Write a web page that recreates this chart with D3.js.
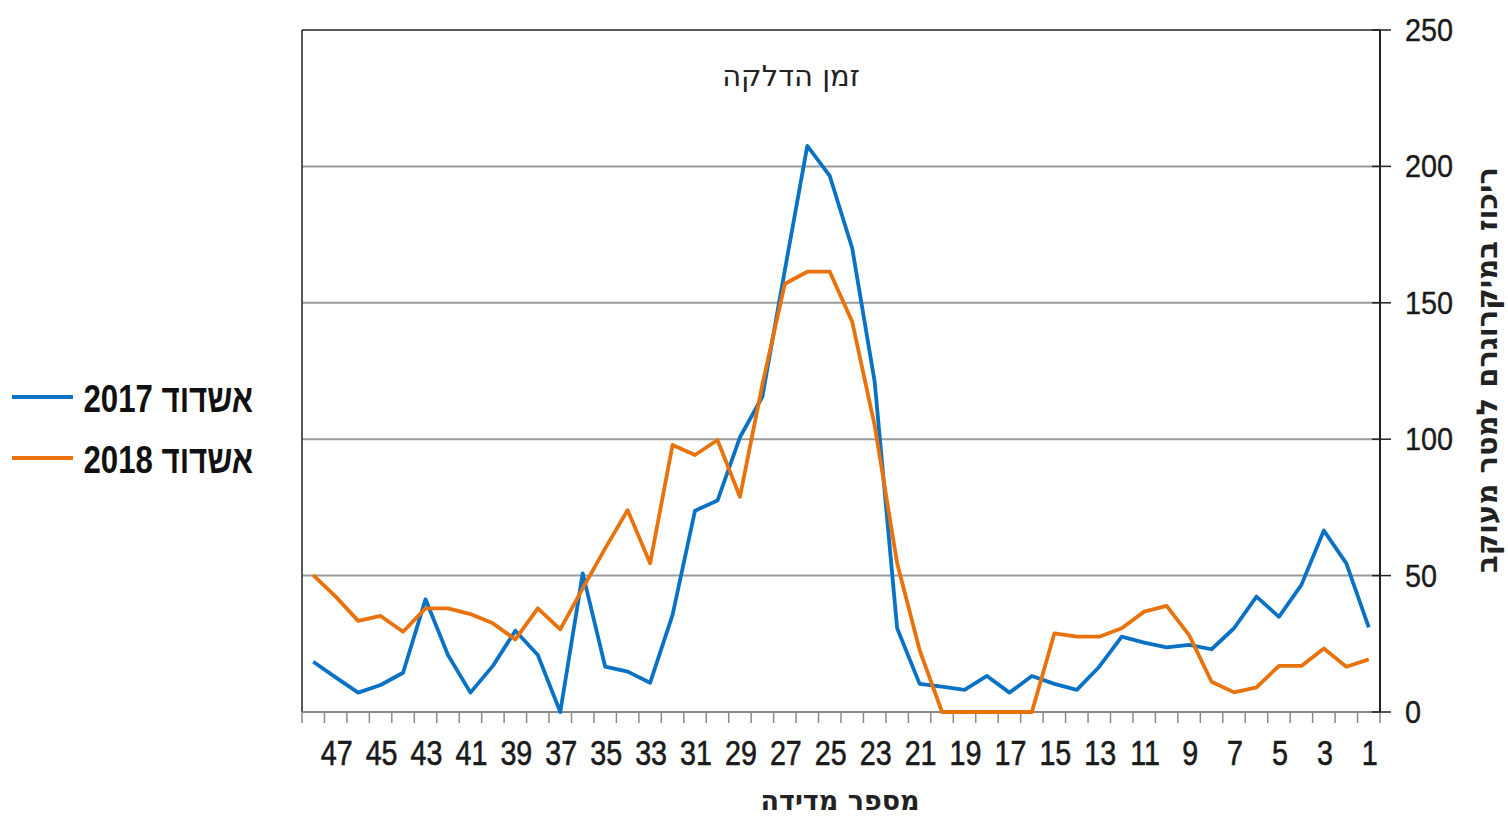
<!DOCTYPE html>
<html>
<head>
<meta charset="utf-8">
<script src="https://cdn.jsdelivr.net/npm/d3@7"></script>
<style>
  body { margin: 0; background: #fff; }
  svg { display: block; }
</style>
</head>
<body>
<svg id="chart"></svg>
<script>
// measurement numbers, drawn right-to-left (48 on the left, 1 on the right)
const measurements = [48,47,46,45,44,43,42,41,40,39,38,37,36,35,34,33,32,31,30,29,28,27,26,25,
  24,23,22,21,20,19,18,17,16,15,14,13,12,11,10,9,8,7,6,5,4,3,2,1];

const ashdod2017 = [18.4,12.7,7.1,9.9,14.4,41.3,20.9,7.1,16.9,29.8,20.9,0,50.8,16.6,14.8,10.7,35.6,73.8,77.5,100.7,
  115.6,162,207.5,196.5,170,121,30.7,10.3,9.3,8.1,13.2,7.1,13.2,10.3,8.1,16.6,27.6,25.4,23.7,24.6,
  23,30.7,42.3,34.9,46.6,66.5,54.5,31];

const ashdod2018 = [50.2,42.3,33.4,35.2,29.4,38,38,35.9,32.5,26.6,38,30.3,45.3,60,74,54.5,97.9,94.2,99.7,78.9,
  120,157,161.4,161.4,143,105,54.5,22.7,0,0,0,0,0,28.8,27.6,27.6,30.7,36.8,38.9,28.2,
  11.1,7.2,9,16.9,16.9,23.3,16.6,19.3];

const yTicks = [0, 50, 100, 150, 200, 250];
const xLabels = [47,45,43,41,39,37,35,33,31,29,27,25,23,21,19,17,15,13,11,9,7,5,3,1];

const series = [
  {name: 'אשדוד 2017', values: ashdod2017, color: '#0a72c4'},
  {name: 'אשדוד 2018', values: ashdod2018, color: '#e8720c'}
];

const [W, H] = [1508, 818];
const plot = {left: 302, right: 1380, top: 30, bottom: 712};
const sans = '"Liberation Sans", Arial, sans-serif';
const hebrew = '"DejaVu Sans", sans-serif';

const svg = d3.select('#chart').attr('width', W).attr('height', H);

const x = d3.scaleBand().domain(measurements).range([plot.left, plot.right]).padding(0);
const y = d3.scaleLinear().domain([0, 250]).range([plot.bottom, plot.top]);

// gridlines
svg.append('g').selectAll('line').data(yTicks.filter(d => d > 0 && d < 250)).enter().append('line')
  .attr('x1', plot.left).attr('x2', plot.right)
  .attr('y1', d => y(d)).attr('y2', d => y(d))
  .attr('stroke', '#9a9a9a').attr('stroke-width', 2);

// frame: top + left
svg.append('line').attr('x1', plot.left).attr('x2', plot.right).attr('y1', y(250)).attr('y2', y(250))
  .attr('stroke', '#222').attr('stroke-width', 1.5);
svg.append('line').attr('x1', plot.left).attr('x2', plot.left).attr('y1', y(250)).attr('y2', y(0))
  .attr('stroke', '#222').attr('stroke-width', 1.5);

// x axis (bottom) with ticks between categories
svg.append('line').attr('x1', plot.left).attr('x2', plot.right).attr('y1', y(0)).attr('y2', y(0))
  .attr('stroke', '#8a8a8a').attr('stroke-width', 2);
const bounds = measurements.map(d => x(d)).concat([x(measurements[measurements.length - 1]) + x.bandwidth()]);
svg.append('g').selectAll('line').data(bounds).enter().append('line')
  .attr('x1', d => d).attr('x2', d => d)
  .attr('y1', y(0)).attr('y2', y(0) + 11)
  .attr('stroke', '#8a8a8a').attr('stroke-width', 1.5);
// condensed labels: horizontal squeeze
svg.append('g').selectAll('text').data(xLabels).enter().append('text')
  .attr('transform', d => `translate(${x(d) + x.bandwidth() / 2 + 1}, ${y(0) + 53}) scale(0.82, 1)`)
  .attr('text-anchor', 'middle')
  .attr('font-family', sans).attr('font-size', 35).attr('fill', '#1a1a1a')
  .attr('stroke', '#1a1a1a').attr('stroke-width', 0.6)
  .text(d => d);

// y axis on the right
const yAxis = svg.append('g');
yAxis.append('line').attr('x1', plot.right).attr('x2', plot.right).attr('y1', y(250)).attr('y2', y(0))
  .attr('stroke', '#222').attr('stroke-width', 2);
yAxis.selectAll('line.tick').data(yTicks).enter().append('line').attr('class', 'tick')
  .attr('x1', plot.right - 8).attr('x2', plot.right + 11)
  .attr('y1', d => y(d)).attr('y2', d => y(d))
  .attr('stroke', '#222').attr('stroke-width', 1.5);
yAxis.selectAll('text').data(yTicks).enter().append('text')
  .attr('transform', d => `translate(${plot.right + 25}, ${y(d) + 11}) scale(0.9, 1)`)
  .attr('font-family', sans).attr('font-size', 32).attr('fill', '#1a1a1a')
  .attr('stroke', '#1a1a1a').attr('stroke-width', 0.4)
  .text(d => d);

// lines
const line = d3.line()
  .x((d, i) => x(measurements[i]) + x.bandwidth() / 2)
  .y(d => y(d));
svg.append('g').selectAll('path').data(series).enter().append('path')
  .attr('d', d => line(d.values))
  .attr('fill', 'none')
  .attr('stroke', d => d.color)
  .attr('stroke-width', 3.8)
  .attr('stroke-linejoin', 'round');

// annotation + axis titles
svg.append('text').attr('x', 791).attr('y', 86).attr('text-anchor', 'middle')
  .attr('font-family', hebrew).attr('font-size', 29).attr('fill', '#222')
  .attr('direction', 'rtl').text('זמן הדלקה');
svg.append('text').attr('x', 840).attr('y', 810).attr('text-anchor', 'middle')
  .attr('font-family', hebrew).attr('font-weight', 'bold').attr('font-size', 27).attr('fill', '#222')
  .attr('direction', 'rtl').text('מספר מדידה');
svg.append('text')
  .attr('transform', `translate(1497, ${(165 + 575) / 2}) rotate(-90)`)
  .attr('text-anchor', 'middle')
  .attr('font-family', hebrew).attr('font-weight', 'bold').attr('font-size', 29).attr('fill', '#222')
  .attr('direction', 'rtl').text('ריכוז במיקרוגרם למטר מעוקב');

// legend
const legend = svg.append('g').selectAll('g').data(series).enter().append('g')
  .attr('transform', (d, i) => `translate(12, ${397 + i * 61})`);
legend.append('line').attr('x1', 0).attr('x2', 61).attr('y1', 0).attr('y2', 0)
  .attr('stroke', d => d.color).attr('stroke-width', 4);
legend.append('text')
  .attr('transform', 'translate(241, 15) scale(0.8, 1)')
  .attr('direction', 'rtl').attr('text-anchor', 'start')
  .attr('font-family', sans).attr('font-weight', 'bold').attr('font-size', 39).attr('fill', '#111')
  .text(d => d.name);
</script>
</body>
</html>
